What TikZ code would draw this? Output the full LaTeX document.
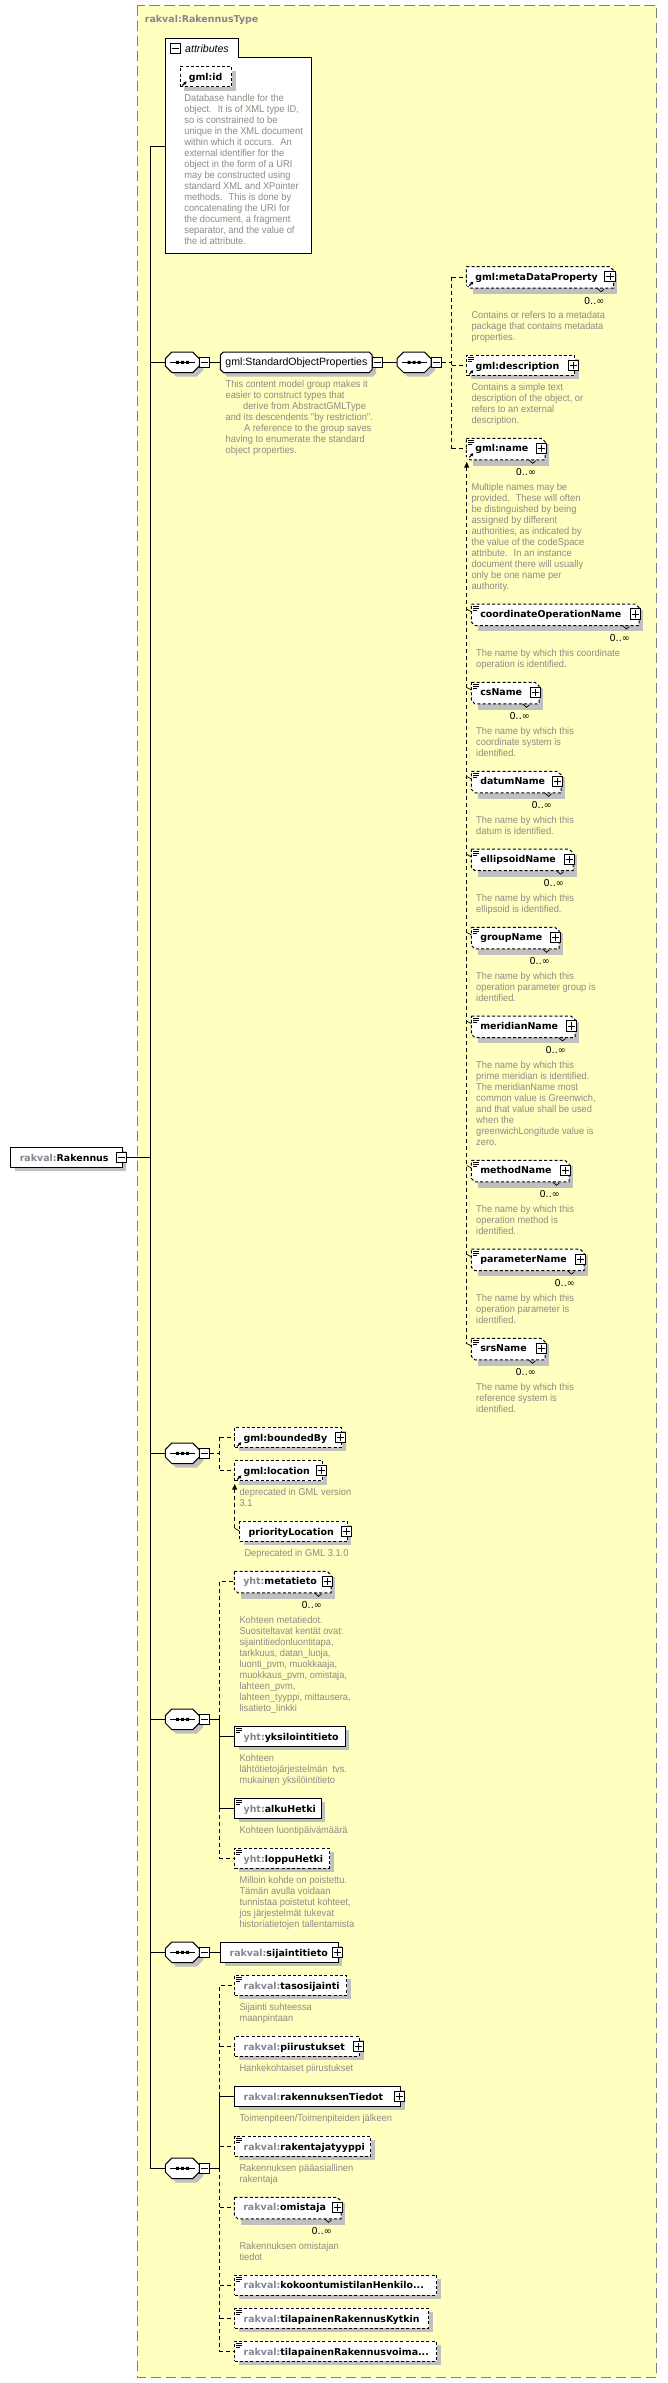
\documentclass[tikz,border=0pt]{standalone}
\usepackage{fontspec}
\setmainfont{Liberation Sans}
\newfontfamily\lblfam{DejaVu Sans}
\newfontfamily\descfam{Liberation Sans}[FakeStretch=0.94]
\usetikzlibrary{shadows,arrows.meta,calc}
\definecolor{typebg}{HTML}{FFFFC0}
\definecolor{shadowc}{HTML}{C0C0C0}
\definecolor{framec}{HTML}{808080}
\definecolor{descc}{HTML}{8C8C84}
\definecolor{prefc}{HTML}{858590}
\newcommand{\pre}[1]{\textcolor{prefc}{#1}}
\newcommand{\lblsize}{\lblfam\bfseries\fontsize{9.45}{11}\selectfont}
\tikzset{
  x=1pt,y=-1pt,
  boxshadow/.style={general shadow={shadow xshift=4pt,shadow yshift=-4pt,fill=shadowc}},
  solidline/.style={draw=black,line width=1pt},
  dashline/.style={draw=black,line width=1pt,dash pattern=on 3pt off 2.2pt},
  conn/.style={draw=black,line width=1pt},
  dconn/.style={draw=black,line width=1pt,dash pattern=on 4pt off 3pt},
  descnode/.style={anchor=north west,inner sep=0pt,align=left,text=descc,font=\descfam\fontsize{9.9}{11}\selectfont},
  expbox/.style={draw=black,line width=1pt,fill=white,minimum size=10.2pt,inner sep=0pt},
  anchorbox/.style={anchor=west,inner sep=0pt,minimum height=20.4pt},
  multnode/.style={anchor=east,inner sep=0pt,font=\lblfam\fontsize{9.6}{11}\selectfont},
  textonly/.style={anchor=west,inner sep=0pt,text height=7.5pt,text depth=2pt,font=\lblsize},
}
% expand / collapse boxes
\newcommand{\plusbox}[3]{\node[expbox] (#1) at (#2,#3) {};
  \draw[line width=.9pt,shorten <=2pt,shorten >=2pt] (#1.west) -- (#1.east);
  \draw[line width=.9pt,shorten <=2pt,shorten >=2pt] (#1.north) -- (#1.south);}
\newcommand{\minusbox}[3]{\node[expbox] (#1) at (#2,#3) {};
  \draw[line width=.9pt,shorten <=2pt,shorten >=2pt] (#1.west) -- (#1.east);}
% small icons
\newcommand{\docicon}[2]{\fill[white] ({#1+1},{#2-9}) rectangle ({#1+8},{#2-3});
  \draw[line width=.8pt] ({#1+1.7},{#2-8}) -- ({#1+7.4},{#2-8}) ({#1+1.7},{#2-6}) -- ({#1+7.4},{#2-6}) ({#1+1.7},{#2-4}) -- ({#1+6},{#2-4});}
\newcommand{\refarrow}[2]{\fill[white] ({#1+1},{#2+3}) rectangle ({#1+8},{#2+9.5});
  \draw[line width=1.2pt,-{Latex[length=3pt,width=3.6pt]}] ({#1+3},{#2+9}) -- ({#1+7.2},{#2+4.8});}
% element: name, line style, left, right, y, label
\newcommand{\elem}[6]{\node[#2,boxshadow,fill=white,anchor=west,inner sep=0pt,text height=13pt,text depth=7pt,font=\lblsize] (#1) at (#3,#5)
  {\makebox[\dimexpr #4pt-#3pt\relax][l]{\hspace{8.8pt}\raisebox{-0.9pt}{#6}}};}
% repeated element: name, left, centre of plus box, y, label
\newcommand{\emul}[5]{
  \fill[shadowc] ({#2+7},{#4-4}) rectangle ({#3+7.2},{#4+17.3});
  \filldraw[fill=white,dashline] (#2,{#4-10}) -- ({#3-.5},{#4-10}) -- ({#3+3.5},{#4-6.5}) -- ({#3+3.5},{#4+11.5}) -- ({#2+3.5},{#4+11.5}) -- (#2,{#4+8}) -- cycle;
  \draw[line width=.7pt] ({#3-13},{#4+11.5}) -- ({#3-9},{#4+15}) -- ({#3-6},{#4+12.5});
  \node[textonly] (#1) at (#2,{#4+.6}) {\makebox[\dimexpr #3pt-#2pt\relax][l]{\hspace{8.8pt}#5}};
  \plusbox{#1p}{#3}{#4}
  \node[multnode] (#1inf) at ({#3-5.5},{#4+24}) {0..∞};}
% chamfered outline: left, right, y, cut x, cut y
\newcommand{\chamf}[5]{
  \fill[shadowc,shift={(4,4)}] ({#1+#4},{#3-10.2}) -- ({#2-#4},{#3-10.2}) -- (#2,{#3-10.2+#5}) -- (#2,{#3+10.2-#5}) -- ({#2-#4},{#3+10.2}) -- ({#1+#4},{#3+10.2}) -- (#1,{#3+10.2-#5}) -- (#1,{#3-10.2+#5}) -- cycle;
  \filldraw[fill=white,line width=1pt] ({#1+#4},{#3-10.2}) -- ({#2-#4},{#3-10.2}) -- (#2,{#3-10.2+#5}) -- (#2,{#3+10.2-#5}) -- ({#2-#4},{#3+10.2}) -- ({#1+#4},{#3+10.2}) -- (#1,{#3+10.2-#5}) -- (#1,{#3-10.2+#5}) -- cycle;}
% sequence: name, left, y
\newcommand{\seqn}[3]{\chamf{#2}{#2+34}{#3}{6.5}{6.5}
  \node[anchorbox,minimum width=34pt] (#1) at (#2,#3) {};
  \draw[line width=1pt] ($(#1.center)+(-12.5,0)$) -- ($(#1.center)+(12.5,0)$);
  \fill ($(#1.center)+(-6.5,-1.5)$) rectangle ++(3,3) ($(#1.center)+(-1.5,-1.5)$) rectangle ++(3,3) ($(#1.center)+(3.5,-1.5)$) rectangle ++(3,3);
  \minusbox{#1m}{#2+39.2}{#3}}
% description
\newcommand{\descr}[4]{\node[descnode] (#1) at (#2,{#3-5.5}) {\rule{0pt}{8.5pt}#4};}
\newcommand{\upArrow}[1]{\fill (#1) -- ($(#1)+(2.6,5.5)$) -- ($(#1)+(-2.6,5.5)$) -- cycle;}
\begin{document}
\begin{tikzpicture}
\useasboundingbox (0,0) rectangle (667,2383);
\fill[white] (0,0) rectangle (667,2383);
% complex type frame
\filldraw[fill=typebg,draw=framec,line width=1pt,dash pattern=on 10.5pt off 4.5pt] (137.4,5.5) rectangle (656.7,2377.3);
\node[anchor=west,inner sep=0pt,text=prefc,font=\lblsize,text height=7.5pt,text depth=2pt] (typetitle) at (144.7,19.3) {rakval:RakennusType};

% main vertical
\coordinate (mainTop) at (150.4,146.3);
\coordinate (mainBot) at (150.4,2168.3);
\draw[conn] (mainTop) -- (mainBot);

% root
\node[solidline,boxshadow,fill=white,anchor=west,inner sep=0pt,text height=13pt,text depth=7pt,font=\lblsize] (root) at (10.3,1157.3)
  {\makebox[111.4pt][l]{\hspace{9pt}\raisebox{-0.9pt}{\pre{rakval:}\textcolor{black}{Rakennus}}}};
\minusbox{rootm}{121.5}{1157.3}
\draw[conn] (rootm.east) -- (mainTop |- rootm.east);

% attributes
\coordinate (attrIn) at (165.5,146.3);
\draw[conn] (mainTop) -- (attrIn);
\filldraw[fill=white,line width=1pt] (165.5,38.3) -- (238.2,38.3) -- (238.2,57.3) -- (311.4,57.3) -- (311.4,253.3) -- (165.5,253.3) -- cycle;
\minusbox{attrm}{175.2}{48.6}
\node[anchor=west,inner sep=0pt,font=\itshape\fontsize{10.6}{13}\selectfont] (attrlabel) at (185,48.3) {attributes};
\elem{gmlid}{dashline}{179.5}{231}{76.5}{gml:id}
\refarrow{179.5}{76.5}
\descr{gmliddesc}{184.2}{98.7}{Database handle for the\\object.~ It is of XML type ID,\\so is constrained to be\\unique in the XML document\\within which it occurs.~ An\\external identifier for the\\object in the form of a URI\\may be constructed using\\standard XML and XPointer\\methods.~ This is done by\\concatenating the URI for\\the document, a fragment\\separator, and the value of\\the id attribute.}

% first sequence and group
\seqn{seqa}{165.3}{362.3}
\draw[conn] (mainTop |- seqa.west) -- (seqa.west);
\chamf{220.3}{372.2}{362.3}{3}{3}
\node[anchorbox,minimum width=151.9pt,font=\fontsize{10.6}{13}\selectfont] (sop) at (220.3,362.3) {\raisebox{-0.8pt}{gml:StandardObjectProperties}};
\draw[conn] (seqam.east) -- (sop.west);
\minusbox{sopm}{377.4}{362.3}
\descr{sopdesc}{225.4}{384.7}{This content model group makes it\\easier to construct types that\\\hspace*{17.5pt}derive from AbstractGMLType\\and its descendents "by restriction".\\\hspace*{18.5pt}A reference to the group saves\\having to enumerate the standard\\object properties.}
\seqn{seqb}{397}{362.3}
\draw[conn] (sopm.east) -- (seqb.west);

% children of the group
\emul{mdp}{466.3}{610}{276.7}{gml:metaDataProperty}
\refarrow{466.3}{276.7}
\descr{mdpdesc}{471.3}{315.7}{Contains or refers to a metadata\\package that contains metadata\\properties.}
\elem{gdesc}{dashline}{466.3}{574}{365.3}{gml:description}
\plusbox{gdescp}{573.5}{365.3}
\docicon{466.3}{365.3}
\refarrow{466.3}{365.3}
\descr{gdescdesc}{471.3}{387.7}{Contains a simple text\\description of the object, or\\refers to an external\\description.}
\emul{gname}{466.3}{541.7}{448.3}{gml:name}
\docicon{466.3}{448.3}
\refarrow{466.3}{448.3}
\descr{gnamedesc}{471.3}{487.7}{Multiple names may be\\provided.~ These will often\\be distinguished by being\\assigned by different\\authorities, as indicated by\\the value of the codeSpace\\attribute.~ In an instance\\document there will usually\\only be one name per\\authority.}

\coordinate (jb) at (451.7,362.3);
\draw[dconn] (seqbm.east) -- (jb);
\draw[dconn] (jb |- mdp.west) -- (jb |- gname.west);
\draw[dconn] (jb |- mdp.west) -- (mdp.west);
\draw[dconn] (jb |- gdesc.west) -- (gdesc.west);
\draw[dconn] (jb |- gname.west) -- (gname.west);

% substitution group of gml:name
\emul{coop}{471.3}{635.5}{614}{coordinateOperationName}
\docicon{471.3}{614}
\descr{coopdesc}{476}{653.7}{The name by which this coordinate\\operation is identified.}
\emul{cs}{471.3}{535.5}{692.3}{csName}
\docicon{471.3}{692.3}
\descr{csdesc}{476}{731.7}{The name by which this\\coordinate system is\\identified.}
\emul{datum}{471.3}{557.5}{781.3}{datumName}
\docicon{471.3}{781.3}
\descr{datumdesc}{476}{820.7}{The name by which this\\datum is identified.}
\emul{ellip}{471.3}{569.5}{859.2}{ellipsoidName}
\docicon{471.3}{859.2}
\descr{ellipdesc}{476}{898.6}{The name by which this\\ellipsoid is identified.}
\emul{group}{471.3}{555.5}{937.3}{groupName}
\docicon{471.3}{937.3}
\descr{groupdesc}{476}{976.7}{The name by which this\\operation parameter group is\\identified.}
\emul{merid}{471.3}{571.5}{1026}{meridianName}
\docicon{471.3}{1026}
\descr{meriddesc}{476}{1065.5}{The name by which this\\prime meridian is identified.\\The meridianName most\\common value is Greenwich,\\and that value shall be used\\when the\\greenwichLongitude value is\\zero.}
\emul{meth}{471.3}{565.5}{1170.3}{methodName}
\docicon{471.3}{1170.3}
\descr{methdesc}{476}{1209.7}{The name by which this\\operation method is\\identified.}
\emul{param}{471.3}{580.5}{1259.1}{parameterName}
\docicon{471.3}{1259.1}
\descr{paramdesc}{476}{1298.5}{The name by which this\\operation parameter is\\identified.}
\emul{srs}{471.3}{541.5}{1348.3}{srsName}
\docicon{471.3}{1348.3}
\descr{srsdesc}{476}{1387.7}{The name by which this\\reference system is\\identified.}

\coordinate (sgTop) at (466.7,462);
\coordinate (sgBot) at (466.7,1343.5);
\draw[dconn] ($(sgTop)+(0,5)$) -- (sgBot);
\upArrow{sgTop}
\foreach \n in {coop,cs,datum,ellip,group,merid,meth,param,srs}{
  \draw[line width=.7pt] ($(sgBot |- \n.west)+(0,-5.4)$) -- ($(\n.west)+(0,-3)$);
}

% second sequence: boundedBy / location
\seqn{seqc}{165.3}{1453.3}
\draw[conn] (mainTop |- seqc.west) -- (seqc.west);
\elem{bby}{dashline}{234.3}{341}{1437.3}{gml:boundedBy}
\plusbox{bbyp}{340.5}{1437.3}
\refarrow{234.3}{1437.3}
\elem{loc}{dashline}{234.3}{322}{1470.5}{gml:location}
\plusbox{locp}{321.3}{1470.5}
\refarrow{234.3}{1470.5}
\descr{locdesc}{239.3}{1492.7}{deprecated in GML version\\3.1}
\elem{ploc}{dashline}{239.3}{346.7}{1531.3}{priorityLocation}
\plusbox{plocp}{346.5}{1531.3}
\descr{plocdesc}{244.3}{1553.7}{Deprecated in GML 3.1.0}
\coordinate (jc) at (219.7,1453.3);
\draw[dconn] (seqcm.east) -- (jc);
\draw[dconn] (jc |- bby.west) -- (jc |- loc.west);
\draw[dconn] (jc |- bby.west) -- (bby.west);
\draw[dconn] (jc |- loc.west) -- (loc.west);
\coordinate (locTip) at (234.7,1484);
\draw[dconn] ($(locTip)+(0,5)$) -- ($(locTip |- ploc.west)+(0,-3)$);
\draw[line width=.7pt] ($(locTip |- ploc.west)+(0,-3)$) -- ($(ploc.west)+(0,-.5)$);
\upArrow{locTip}

% third sequence: metadata
\seqn{seqd}{165.3}{1719.3}
\draw[conn] (mainTop |- seqd.west) -- (seqd.west);
\emul{meta}{234.3}{327.5}{1581.3}{\pre{yht:}metatieto}
\descr{metadesc}{239.3}{1620.7}{Kohteen metatiedot.\\Suositeltavat kentät ovat:\\sijaintitiedonluontitapa,\\tarkkuus, datan\_luoja,\\luonti\_pvm, muokkaaja,\\muokkaus\_pvm, omistaja,\\lahteen\_pvm,\\lahteen\_tyyppi, mittausera,\\lisatieto\_linkki}
\elem{yks}{solidline}{234.3}{344.7}{1736.3}{\pre{yht:}yksilointitieto}
\docicon{234.3}{1736.3}
\descr{yksdesc}{239.3}{1758.7}{Kohteen\\lähtötietojärjestelmän~ tvs.\\mukainen yksilöintitieto}
\elem{alku}{solidline}{234.3}{320.7}{1808.3}{\pre{yht:}alkuHetki}
\docicon{234.3}{1808.3}
\descr{alkudesc}{239.3}{1830.7}{Kohteen luontipäivämäärä}
\elem{loppu}{dashline}{234.3}{329}{1858.3}{\pre{yht:}loppuHetki}
\docicon{234.3}{1858.3}
\descr{loppudesc}{239.3}{1880.7}{Milloin kohde on poistettu.\\Tämän avulla voidaan\\tunnistaa poistetut kohteet,\\jos järjestelmät tukevat\\historiatietojen tallentamista}
\coordinate (jd) at (219.7,1719.3);
\draw[conn] (seqdm.east) -- (jd);
\draw[dconn] (jd) -- (jd |- meta.west) -- (meta.west);
\draw[conn] (jd) -- (jd |- alku.west) -- (alku.west);
\draw[conn] (jd |- yks.west) -- (yks.west);
\draw[dconn] (jd |- alku.west) -- (jd |- loppu.west) -- (loppu.west);

% fourth sequence
\seqn{seqe}{165.3}{1952.3}
\draw[conn] (mainTop |- seqe.west) -- (seqe.west);
\elem{sij}{solidline}{220.3}{337.7}{1952.3}{\pre{rakval:}sijaintitieto}
\plusbox{sijp}{337.5}{1952.3}
\draw[conn] (seqem.east) -- (sij.west);

% fifth sequence
\seqn{seqf}{165.3}{2168.3}
\draw[conn] (mainBot) -- (seqf.west);
\elem{taso}{dashline}{234.3}{346}{1985.3}{\pre{rakval:}tasosijainti}
\docicon{234.3}{1985.3}
\descr{tasodesc}{239.3}{2007.7}{Sijainti suhteessa\\maanpintaan}
\elem{piir}{dashline}{234.3}{359}{2046.3}{\pre{rakval:}piirustukset}
\plusbox{piirp}{358.5}{2046.3}
\descr{piirdesc}{239.3}{2068.7}{Hankekohtaiset piirustukset}
\elem{rtied}{solidline}{234.3}{400}{2096.3}{\pre{rakval:}rakennuksenTiedot}
\plusbox{rtiedp}{399.5}{2096.3}
\descr{rtieddesc}{239.3}{2118.7}{Toimenpiteen/Toimenpiteiden jälkeen}
\elem{rtyyp}{dashline}{234.3}{370}{2146.3}{\pre{rakval:}rakentajatyyppi}
\docicon{234.3}{2146.3}
\descr{rtyypdesc}{239.3}{2168.7}{Rakennuksen pääasiallinen\\rakentaja}
\emul{omis}{234.3}{337.5}{2207.3}{\pre{rakval:}omistaja}
\descr{omisdesc}{239.3}{2246.7}{Rakennuksen omistajan\\tiedot}
\elem{koko}{dashline}{234.3}{436}{2285}{\pre{rakval:}kokoontumistilanHenkilo...}
\docicon{234.3}{2285}
\elem{kyt}{dashline}{234.3}{428}{2318.3}{\pre{rakval:}tilapainenRakennusKytkin}
\docicon{234.3}{2318.3}
\elem{voi}{dashline}{234.3}{436}{2351.3}{\pre{rakval:}tilapainenRakennusvoima...}
\docicon{234.3}{2351.3}
\coordinate (jf) at (219.7,2168.3);
\draw[conn] (seqfm.east) -- (jf);
\draw[conn] (jf) -- (jf |- rtied.west) -- (rtied.west);
\draw[dconn] (jf |- rtied.west) -- (jf |- taso.west) -- (taso.west);
\draw[dconn] (jf |- piir.west) -- (piir.west);
\draw[dconn] (jf |- rtyyp.west) -- (rtyyp.west);
\draw[dconn] (jf) -- (jf |- voi.west) -- (voi.west);
\draw[dconn] (jf |- omis.west) -- (omis.west);
\draw[dconn] (jf |- koko.west) -- (koko.west);
\draw[dconn] (jf |- kyt.west) -- (kyt.west);
\end{tikzpicture}
\end{document}
